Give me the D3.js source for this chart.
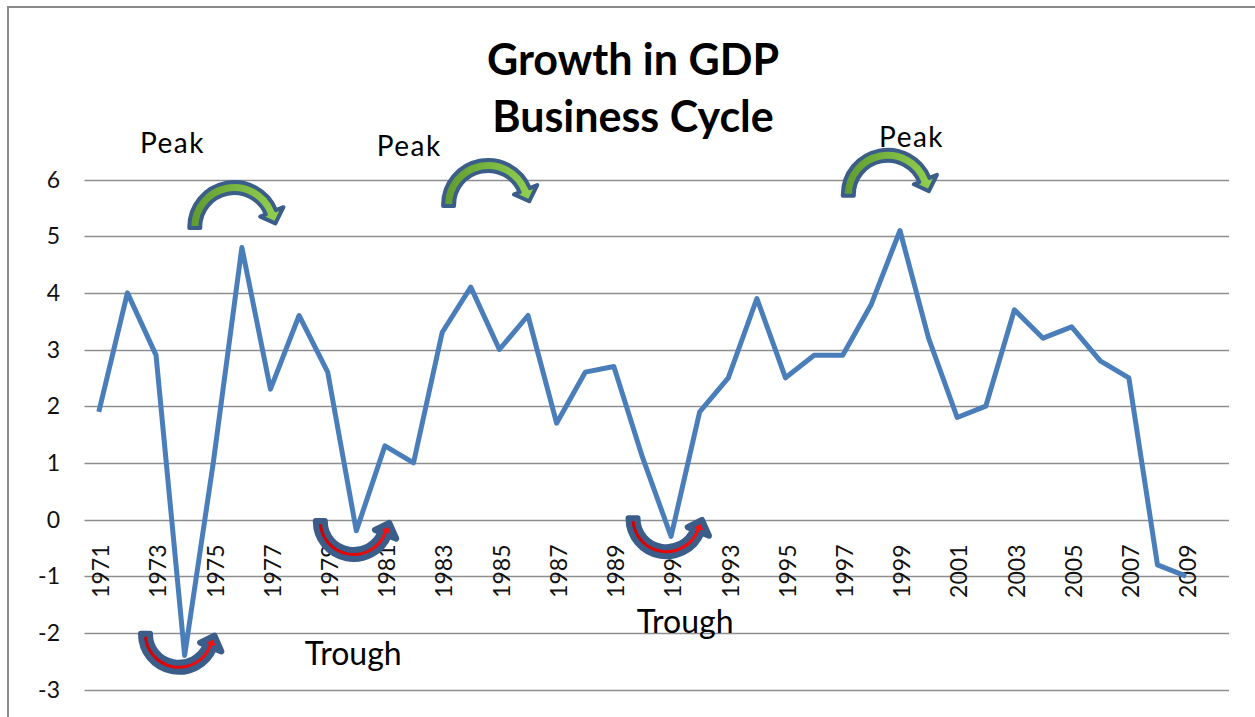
<!DOCTYPE html>
<html>
<head>
  <script src="https://d3js.org/d3.v7.min.js"></script>
  <style>
    body { margin: 0; background: #fff; }
    svg { font-family: Lato, "Open Sans", sans-serif; }
    .grid line { stroke: #8e8e8e; stroke-width: 1.4; }
    .tick-label { font-size: 23px; fill: #111; }
    .line { fill: none; stroke: #4a7ebb; stroke-width: 5; stroke-linejoin: round; }
    .title { font-size: 43px; font-weight: bold; fill: #000; }
    .note { fill: #000; }
  </style>
</head>
<body>
<div id="chart"></div>
<script>
// GDP growth, one value per year (2010 has a slot but no value)
var years = [1971, 1972, 1973, 1974, 1975, 1976, 1977, 1978, 1979, 1980,
  1981, 1982, 1983, 1984, 1985, 1986, 1987, 1988, 1989, 1990,
  1991, 1992, 1993, 1994, 1995, 1996, 1997, 1998, 1999, 2000,
  2001, 2002, 2003, 2004, 2005, 2006, 2007, 2008, 2009, 2010];
var growth = [1.9, 4.0, 2.9, -2.4, 1.0, 4.8, 2.3, 3.6, 2.6, -0.2,
  1.3, 1.0, 3.3, 4.1, 3.0, 3.6, 1.7, 2.6, 2.7, 1.1,
  -0.3, 1.9, 2.5, 3.9, 2.5, 2.9, 2.9, 3.8, 5.1, 3.2,
  1.8, 2.0, 3.7, 3.2, 3.4, 2.8, 2.5, -0.8, -1.0, null];
var yTicks = [-3, -2, -1, 0, 1, 2, 3, 4, 5, 6];
var xLabels = [1971, 1973, 1975, 1977, 1979, 1981, 1983, 1985, 1987, 1989,
  1991, 1993, 1995, 1997, 1999, 2001, 2003, 2005, 2007, 2009];
var titleLines = ["Growth in GDP", "Business Cycle"];

// annotations, placed in data units (year, value)
var notes = [
  {text: "Peak", year: 1972.44, value: 6.47, kind: "peak"},
  {text: "Peak", year: 1980.71, value: 6.42, kind: "peak"},
  {text: "Peak", year: 1998.27, value: 6.57, kind: "peak"},
  {text: "Trough", year: 1978.2, value: -2.57, kind: "trough"},
  {text: "Trough", year: 1989.8, value: -2.0, kind: "trough"}
];
var peakArrows = [      // centre year, top value
  {year: 1975.84, value: 5.99},
  {year: 1984.71, value: 6.38},
  {year: 1998.68, value: 6.56}
];
var troughArrows = [    // centre year, bottom value
  {year: 1973.89, value: -2.74},
  {year: 1980.0, value: -0.75},
  {year: 1990.93, value: -0.70}
];

var width = 1255;
var height = 717;

var svg = d3.select("#chart").append("svg")
  .attr("width", width)
  .attr("height", height);

var x = d3.scaleBand()
  .domain(years)
  .range([84.5, 1229]);

var y = d3.scaleLinear()
  .domain([-3, 6])
  .range([689.5, 179.5]);

function xAt(yr) {
  return x(years[0]) + x.bandwidth() / 2 + (yr - years[0]) * x.step();
}

/* gradients for the arrows */
var defs = svg.append("defs");
var g1 = defs.append("linearGradient").attr("id", "greenFill");
g1.append("stop").attr("offset", "0%").attr("stop-color", "#5f9a2f");
g1.append("stop").attr("offset", "100%").attr("stop-color", "#95d352");
var g2 = defs.append("linearGradient").attr("id", "redFill");
g2.append("stop").attr("offset", "0%").attr("stop-color", "#d00000");
g2.append("stop").attr("offset", "100%").attr("stop-color", "#ff1010");

/* chart frame */
svg.append("path")
  .attr("d", "M8," + height + "V7H" + width)
  .attr("fill", "none")
  .attr("stroke", "#8a8a8a")
  .attr("stroke-width", 2);

/* title */
svg.selectAll(".title")
  .data(titleLines).enter()
  .append("text")
  .attr("class", "title")
  .attr("text-anchor", "middle")
  .attr("x", 633)
  .attr("y", (d, i) => 75 + i * 57)
  .text(d => d);

/* gridlines */
svg.append("g")
  .attr("class", "grid")
  .selectAll("line")
  .data(yTicks).enter()
  .append("line")
  .attr("x1", x.range()[0])
  .attr("x2", x.range()[1])
  .attr("y1", d => Math.round(y(d)) + 0.5)
  .attr("y2", d => Math.round(y(d)) + 0.5);

/* y labels */
svg.append("g")
  .selectAll("text")
  .data(yTicks).enter()
  .append("text")
  .attr("class", "tick-label")
  .attr("text-anchor", "end")
  .attr("x", 60)
  .attr("y", d => y(d))
  .attr("dy", "0.36em")
  .text(d => d);

/* x labels, rotated, just under the zero line */
svg.append("g")
  .selectAll("text")
  .data(xLabels).enter()
  .append("text")
  .attr("class", "tick-label")
  .attr("text-anchor", "end")
  .attr("transform", d => `translate(${x(d) + x.bandwidth() / 2 + 2}, ${y(0) + 25}) rotate(-90)`)
  .attr("dy", "0.36em")
  .text(d => d);

/* the series */
var line = d3.line()
  .defined(d => d.value != null)
  .x(d => x(d.year) + x.bandwidth() / 2)
  .y(d => y(d.value));

svg.append("path")
  .attr("class", "line")
  .attr("d", line(years.map((yr, i) => ({year: yr, value: growth[i]}))));

/* curved arrow: arch over the top, foot on the left, head turning down on the right */
function curvedArrow(W, H, sw) {
  var half = 7.5 - sw / 2;
  var cx = 0.47 * W, cy = 0.94 * H;
  var rxm = cx - 7.5, rym = cy - 7.5;
  var rxo = rxm + half, ryo = rym + half;
  var rxi = rxm - half, ryi = rym - half;
  var bottom = H - 2;
  var a = 22 * Math.PI / 180;
  var c = Math.cos(a), s = Math.sin(a);
  function pt(rx, ry) { return [cx + rx * c, cy - ry * s]; }
  var po = pt(rxo, ryo), pi = pt(rxi, ryi), pm = pt(rxm, rym);
  var ho = pt(rxo + 8, ryo + 8), hi = pt(rxi - 6, ryi - 6);
  var tx = rxm * s, ty = rym * c, tl = Math.hypot(tx, ty);
  var tip = [pm[0] + tx / tl * 12, Math.min(pm[1] + ty / tl * 12, bottom + 1)];
  return "M" + (cx - rxo) + "," + bottom +
    "L" + (cx - rxo) + "," + cy +
    "A" + rxo + "," + ryo + " 0 0 1 " + po[0] + "," + po[1] +
    "L" + ho[0] + "," + ho[1] +
    "L" + tip[0] + "," + tip[1] +
    "L" + hi[0] + "," + hi[1] +
    "L" + pi[0] + "," + pi[1] +
    "A" + rxi + "," + ryi + " 0 0 0 " + (cx - rxi) + "," + cy +
    "L" + (cx - rxi) + "," + bottom + "Z";
}

var peakW = 100, peakH = 50;
svg.append("g")
  .selectAll("path")
  .data(peakArrows).enter()
  .append("path")
  .attr("transform", d => `translate(${xAt(d.year) - peakW / 2}, ${y(d.value)})`)
  .attr("d", curvedArrow(peakW, peakH, 4))
  .attr("fill", "url(#greenFill)")
  .attr("stroke", "#3b5d89")
  .attr("stroke-width", 4)
  .attr("stroke-linejoin", "round");

var troughW = 87, troughH = 43;
svg.append("g")
  .selectAll("path")
  .data(troughArrows).enter()
  .append("path")
  .attr("transform", d => `translate(${xAt(d.year) - troughW / 2}, ${y(d.value)}) scale(1,-1)`)
  .attr("d", curvedArrow(troughW, troughH, 6))
  .attr("fill", "url(#redFill)")
  .attr("stroke", "#3b5d89")
  .attr("stroke-width", 6)
  .attr("stroke-linejoin", "round");

/* Peak / Trough labels */
svg.append("g")
  .selectAll("text")
  .data(notes).enter()
  .append("text")
  .attr("class", "note")
  .attr("x", d => xAt(d.year))
  .attr("y", d => y(d.value))
  .style("font-size", d => d.kind == "peak" ? "28px" : "32px")
  .style("letter-spacing", d => d.kind == "peak" ? "1.5px" : "0px")
  .text(d => d.text);
</script>
</body>
</html>
